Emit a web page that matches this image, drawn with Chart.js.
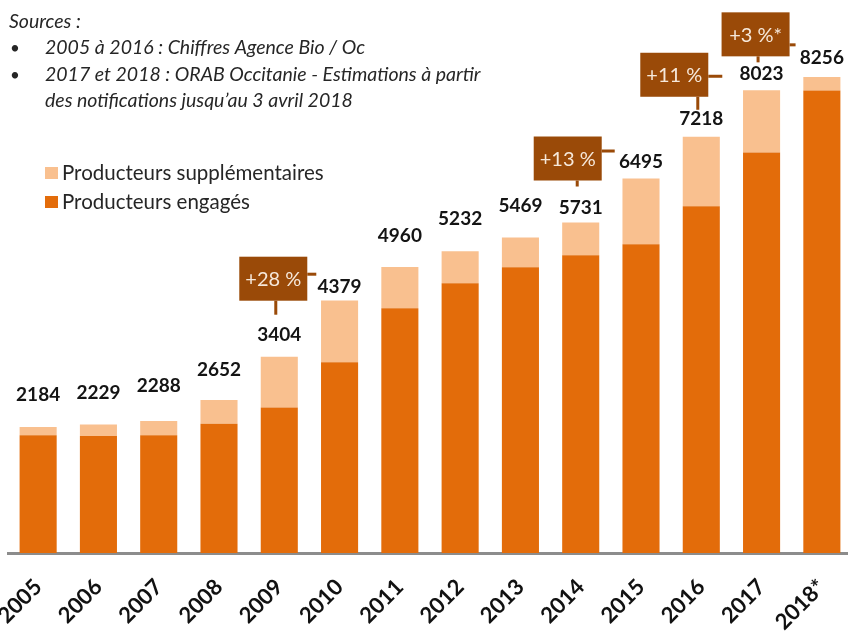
<!DOCTYPE html>
<html lang="fr">
<head>
<meta charset="utf-8">
<script src="https://cdn.jsdelivr.net/npm/chart.js@4.4.1/dist/chart.umd.min.js"></script>
<style>
  html, body { margin: 0; padding: 0; background: #fff; overflow: hidden; }
  #wrap { position: relative; width: 852px; height: 632px; }
</style>
</head>
<body>
<div id="wrap"><canvas id="chart"></canvas></div>
<script>
// --- data ---
const years = ['2005', '2006', '2007', '2008', '2009', '2010', '2011', '2012', '2013', '2014', '2015', '2016', '2017', '2018*'];
const engages = [2044, 2027, 2044, 2240, 2524, 3309, 4245, 4678, 4955, 5163, 5353, 6012, 6947, 8021];
const supplementaires = [140, 202, 244, 412, 880, 1070, 715, 554, 514, 568, 1142, 1206, 1076, 235];
const totals = [2184, 2229, 2288, 2652, 3404, 4379, 4960, 5232, 5469, 5731, 6495, 7218, 8023, 8256];
const hausseAnnees = ['2009', '2014', '2016', '2017'];
const hausseTextes = ['+28 %', '+13 %', '+11 %', '+3 %*'];

const sources = [
  'Sources :',
  '2005 à 2016 : Chiffres Agence Bio / Oc',
  '2017 et 2018 : ORAB Occitanie - Estimations à partir',
  'des notifications jusqu’au 3 avril 2018'
];

const DARK = '#E36C0A';
const LIGHT = '#F9C08F';
const BROWN = '#9A4A08';
const FONT = 'Lato, "Open Sans", sans-serif';

// how far above the bar top each total sits (px)
const labelLift = [32, 32, 35, 30, 22, 14, 31, 32, 32, 15, 17, 18, 16, 19];
// placement of each growth box relative to its bar (px)
const boxLayout = [
  { dx: -40, dy: -100, stem: 14, armY: 16, arm: 9 },
  { dx: -47, dy: -86, stem: 6, armY: 13, arm: 13 },
  { dx: -61, dy: -84, stem: 13, armY: 22, arm: 14 },
  { dx: -40, dy: -78, stem: 6, armY: 31, arm: 6 }
];

const decor = {
  id: 'decor',
  afterDraw(chart) {
    const ctx = chart.ctx;
    const x = chart.scales.x;
    const y = chart.scales.y;
    ctx.save();

    // sources
    ctx.fillStyle = '#262626';
    ctx.textBaseline = 'alphabetic';
    ctx.textAlign = 'left';
    ctx.font = 'italic 19.5px ' + FONT;
    ctx.fillText(sources[0], 9, 28);
    ctx.fillText(sources[1], 45, 54);
    ctx.fillText(sources[2], 45, 81);
    ctx.fillText(sources[3], 45, 107);
    ctx.font = '17px ' + FONT;
    ctx.fillText('•', 10, 54);
    ctx.fillText('•', 10, 81);

    // legend
    ctx.font = '20.5px ' + FONT;
    const legend = [['Producteurs supplémentaires', LIGHT], ['Producteurs engagés', DARK]];
    legend.forEach(([txt, col], i) => {
      const ly = 167 + i * 29;
      ctx.fillStyle = col;
      ctx.fillRect(45, ly, 13, 12);
      ctx.fillStyle = '#262626';
      ctx.fillText(txt, 62, ly + 13);
    });

    // totals above bars
    ctx.font = 'bold 19px ' + FONT;
    ctx.fillStyle = '#141414';
    ctx.textAlign = 'center';
    ctx.textBaseline = 'middle';
    totals.forEach((t, i) => {
      ctx.fillText(String(t), x.getPixelForValue(i), y.getPixelForValue(t) - labelLift[i]);
    });

    // growth boxes
    hausseAnnees.forEach((yr, k) => {
      const i = years.indexOf(yr);
      const L = boxLayout[k];
      const cx = x.getPixelForValue(i);
      const top = y.getPixelForValue(totals[i]);
      const bx = cx + L.dx, by = top + L.dy, bw = 68, bh = 44;
      ctx.fillStyle = BROWN;
      ctx.fillRect(bx, by, bw, bh);
      ctx.fillRect(cx - 5, by + bh, 3, L.stem);
      ctx.fillRect(bx + bw, by + L.armY, L.arm, 3);
      ctx.fillStyle = '#F6E8DA';
      ctx.font = '20px ' + FONT;
      ctx.fillText(hausseTextes[k], bx + bw / 2, by + bh / 2 + 1);
    });

    ctx.restore();
  }
};

new Chart(document.getElementById('chart'), {
  type: 'bar',
  data: {
    labels: years,
    datasets: [
      { label: 'Producteurs engagés', data: engages, backgroundColor: DARK },
      { label: 'Producteurs supplémentaires', data: supplementaires, backgroundColor: LIGHT }
    ]
  },
  options: {
    responsive: true,
    maintainAspectRatio: false,
    animation: false,
    devicePixelRatio: 1,
    barPercentage: 0.615,
    categoryPercentage: 1,
    layout: { padding: { top: 34, left: 8, right: 0, bottom: 0 } },
    plugins: { legend: { display: false }, tooltip: { enabled: false } },
    scales: {
      x: {
        stacked: true,
        grid: { display: false, drawTicks: false },
        border: { display: true, color: '#8C8C8C', width: 3 },
        ticks: {
          autoSkip: false,
          minRotation: 45,
          maxRotation: 45,
          padding: 21,
          color: '#111',
          font: { family: FONT, size: 22, weight: 'bold' }
        },
        afterFit(scale) {
          scale.height = 79;
          scale.paddingLeft = 0;
          scale.paddingRight = 0;
        }
      },
      y: {
        stacked: true,
        display: false,
        min: 0,
        max: 9000
      }
    }
  },
  plugins: [decor]
});
</script>
</body>
</html>
